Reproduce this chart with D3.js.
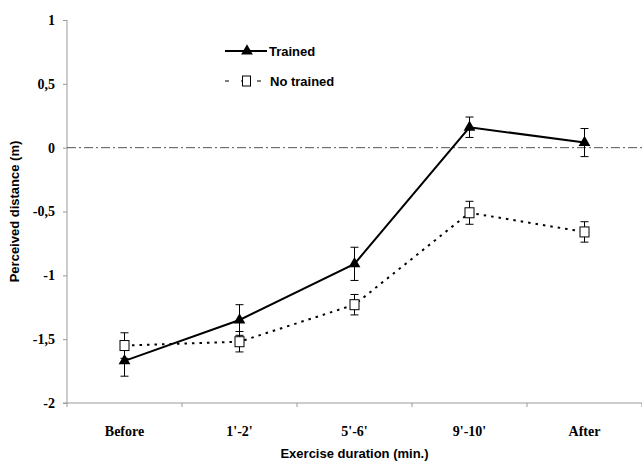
<!DOCTYPE html>
<html>
<head>
<meta charset="utf-8">
<script src="https://cdn.jsdelivr.net/npm/d3@7"></script>
<style>
  body { margin: 0; background: #fff; }
  svg { display: block; }
</style>
</head>
<body>
<svg id="chart" width="642" height="463"></svg>
<script>
// Perceived distance during exercise, trained vs no trained
const categories = ["Before", "1'-2'", "5'-6'", "9'-10'", "After"];
const trained = [-1.67, -1.35, -0.91, 0.16, 0.04];
const trainedErr = [0.12, 0.12, 0.13, 0.08, 0.11];
const noTrained = [-1.55, -1.52, -1.23, -0.51, -0.66];
const noTrainedErr = [0.10, 0.08, 0.08, 0.09, 0.08];
const yTicks = [-2, -1.5, -1, -0.5, 0, 0.5, 1];

const svg = d3.select('#chart');
const margin = { left: 67, right: 0, top: 20, bottom: 60 };
const width = 642 - margin.left - margin.right;
const height = 463 - margin.top - margin.bottom;

const x = d3.scaleBand().domain(categories).range([0, width]).padding(0);
const cx = d => x(d) + x.bandwidth() / 2;
const y = d3.scaleLinear().domain([-2, 1]).range([height, 0]);

const g = svg.append('g').attr('transform', `translate(${margin.left},${margin.top})`);

const axisColor = '#9a9a9a';
const serif = '"Liberation Serif", "Times New Roman", serif';
const sans = '"Liberation Sans", Arial, sans-serif';

// y axis
const yAxis = g.append('g')
  .call(d3.axisLeft(y).tickValues(yTicks).tickSize(4).tickPadding(8)
    .tickFormat(d => String(d).replace('.', ',')));
yAxis.selectAll('line, path').attr('stroke', axisColor);
yAxis.select('.domain').attr('d', `M0,${height}V0`);
yAxis.selectAll('text')
  .attr('font-family', serif)
  .attr('font-weight', 700)
  .attr('font-size', 14)
  .attr('fill', '#000');

// x axis (ticks at category boundaries)
const xAxis = g.append('g').attr('transform', `translate(0,${height})`);
xAxis.append('line')
  .attr('x1', -4).attr('x2', width)
  .attr('stroke', axisColor);
xAxis.selectAll('line.tick')
  .data(categories.map(c => x(c)).concat([width]))
  .enter()
  .append('line')
  .attr('class', 'tick')
  .attr('x1', d => d).attr('x2', d => d)
  .attr('y1', 0).attr('y2', 4)
  .attr('stroke', axisColor);
xAxis.selectAll('text.label')
  .data(categories)
  .enter()
  .append('text')
  .attr('class', 'label')
  .attr('x', d => cx(d))
  .attr('y', 33)
  .attr('text-anchor', 'middle')
  .attr('font-family', serif)
  .attr('font-weight', 700)
  .attr('font-size', 14)
  .text(d => d);

// axis titles
g.append('text')
  .attr('x', width / 2)
  .attr('y', height + 55)
  .attr('text-anchor', 'middle')
  .attr('font-family', sans)
  .attr('font-weight', 700)
  .attr('font-size', 13)
  .text('Exercise duration (min.)');

g.append('text')
  .attr('transform', `translate(${-48}, ${height / 2}) rotate(-90)`)
  .attr('text-anchor', 'middle')
  .attr('font-family', sans)
  .attr('font-weight', 700)
  .attr('font-size', 13)
  .text('Perceived distance (m)');

// zero reference line
g.append('line')
  .attr('x1', 0).attr('x2', width)
  .attr('y1', y(0)).attr('y2', y(0))
  .attr('stroke', '#555')
  .attr('stroke-width', 1)
  .attr('stroke-dasharray', '9,3,2,3');

const line = d3.line().x((d, i) => cx(categories[i])).y(d => y(d));

function errorBars(values, errs) {
  const eb = g.append('g');
  values.forEach((v, i) => {
    const xc = cx(categories[i]);
    const e = errs[i];
    eb.append('line')
      .attr('x1', xc).attr('x2', xc)
      .attr('y1', y(v + e)).attr('y2', y(v - e))
      .attr('stroke', '#000');
    [v + e, v - e].forEach(t => {
      eb.append('line')
        .attr('x1', xc - 4).attr('x2', xc + 4)
        .attr('y1', y(t)).attr('y2', y(t))
        .attr('stroke', '#000');
    });
  });
}

errorBars(noTrained, noTrainedErr);
errorBars(trained, trainedErr);

// No trained series
g.append('path')
  .datum(noTrained)
  .attr('d', line)
  .attr('fill', 'none')
  .attr('stroke', '#000')
  .attr('stroke-width', 2)
  .attr('stroke-dasharray', '2.5,5');

g.selectAll('rect.nt')
  .data(noTrained)
  .enter()
  .append('rect')
  .attr('class', 'nt')
  .attr('x', (d, i) => cx(categories[i]) - 4.5)
  .attr('y', d => y(d) - 5)
  .attr('width', 9)
  .attr('height', 10)
  .attr('fill', '#fff')
  .attr('stroke', '#000')
  .attr('stroke-width', 1);

// Trained series
g.append('path')
  .datum(trained)
  .attr('d', line)
  .attr('fill', 'none')
  .attr('stroke', '#000')
  .attr('stroke-width', 2);

const tri = d3.symbol().type(d3.symbolTriangle).size(60);
g.selectAll('path.tr')
  .data(trained)
  .enter()
  .append('path')
  .attr('class', 'tr')
  .attr('d', tri)
  .attr('transform', (d, i) => `translate(${cx(categories[i])},${y(d)})`)
  .attr('fill', '#000');

// legend
const legend = svg.append('g').attr('transform', 'translate(225, 51)');
legend.append('line')
  .attr('x1', 0).attr('x2', 42)
  .attr('stroke', '#000').attr('stroke-width', 2);
legend.append('path')
  .attr('d', tri)
  .attr('transform', 'translate(22,0)')
  .attr('fill', '#000');
legend.append('text')
  .attr('x', 44).attr('y', 5)
  .attr('font-family', sans).attr('font-weight', 700).attr('font-size', 13)
  .text('Trained');

const l2 = legend.append('g').attr('transform', 'translate(0,30)');
l2.append('line')
  .attr('x1', 0).attr('x2', 42)
  .attr('stroke', '#000').attr('stroke-width', 1)
  .attr('stroke-dasharray', '4,12');
l2.append('rect')
  .attr('x', 17.5).attr('y', -5)
  .attr('width', 8).attr('height', 10)
  .attr('fill', '#fff').attr('stroke', '#000');
l2.append('text')
  .attr('x', 45).attr('y', 5)
  .attr('font-family', sans).attr('font-weight', 700).attr('font-size', 13)
  .text('No trained');
</script>
</body>
</html>
